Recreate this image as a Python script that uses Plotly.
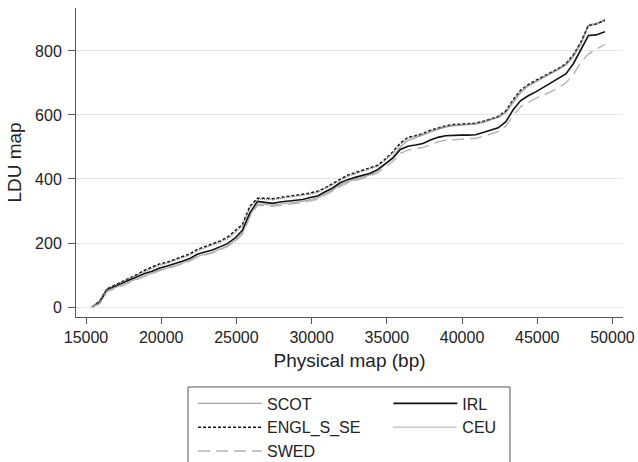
import plotly.graph_objects as go

bp = [15400, 15900, 16400, 16900, 17400, 17900, 18400, 18900, 19400, 19900,
      20400, 20900, 21400, 21900, 22400, 22900, 23400, 23900, 24400, 24900,
      25400, 25900, 26400, 26900, 27400, 27900, 28400, 28900, 29400, 29900,
      30400, 30900, 31400, 31900, 32400, 32900, 33400, 33900, 34400, 34900,
      35400, 35900, 36400, 36900, 37400, 37900, 38400, 38900, 39400, 39900,
      40400, 40900, 41400, 41900, 42400, 42900, 43400, 43900, 44400, 44900,
      45400, 45900, 46400, 46900, 47400, 47900, 48400, 48900, 49500]

irl = [0, 15, 55, 65, 75, 85, 95, 105, 112, 122,
       128, 135, 143, 152, 165, 172, 178, 188, 198, 215,
       240, 295, 330, 327, 324, 328, 330, 334, 336, 342,
       347, 360, 372, 388, 398, 405, 412, 418, 430, 448,
       465, 492, 502, 506, 511, 522, 530, 535, 537, 537,
       537, 538, 545, 552, 560, 578, 616, 645, 660, 672,
       686, 698, 712, 728, 760, 805, 848, 850, 860]

engl = [0, 18, 57, 68, 80, 92, 102, 115, 125, 135,
        140, 148, 156, 166, 180, 188, 196, 206, 218, 238,
        258, 315, 340, 340, 338, 342, 345, 348, 352, 356,
        362, 372, 386, 400, 412, 420, 428, 435, 443, 462,
        485, 512, 530, 535, 542, 552, 560, 566, 570, 572,
        572, 574, 580, 588, 595, 612, 648, 678, 695, 708,
        720, 732, 745, 760, 788, 828, 880, 884, 895]

ceu = [0, 16, 56, 66, 78, 90, 100, 112, 122, 131,
       137, 145, 153, 163, 176, 184, 192, 202, 213, 232,
       252, 310, 336, 336, 335, 339, 342, 345, 349, 353,
       358, 369, 382, 396, 408, 416, 424, 431, 440, 458,
       481, 508, 527, 533, 540, 550, 558, 564, 568, 570,
       571, 573, 579, 586, 594, 610, 645, 675, 693, 706,
       718, 730, 744, 758, 786, 826, 882, 886, 900]

scot = [0, 12, 50, 60, 70, 79, 89, 98, 106, 116,
        122, 129, 137, 146, 158, 165, 171, 181, 191, 207,
        232, 288, 322, 321, 318, 322, 324, 328, 330, 336,
        341, 354, 366, 382, 392, 399, 406, 413, 426, 446,
        470, 500, 520, 528, 536, 546, 555, 562, 566, 568,
        569, 571, 577, 584, 592, 606, 640, 670, 690, 703,
        715, 727, 741, 755, 782, 820, 878, 883, 897]

swed = [0, 10, 48, 58, 68, 77, 87, 96, 104, 114,
        120, 127, 135, 144, 156, 163, 169, 179, 189, 204,
        228, 282, 318, 317, 315, 318, 320, 324, 326, 332,
        337, 350, 362, 377, 388, 395, 402, 409, 420, 438,
        455, 480, 490, 494, 498, 508, 516, 521, 523, 524,
        525, 527, 533, 540, 548, 565, 598, 626, 640, 652,
        662, 672, 685, 700, 726, 765, 790, 805, 820]

xticks = [15000, 20000, 25000, 30000, 35000, 40000, 45000, 50000]
yticks = [0, 200, 400, 600, 800]

# name, values, line style, legend column
series = [
    ("SCOT", scot, dict(color="#a6a6a6", width=1.2, dash="solid"), "legend"),
    ("IRL", irl, dict(color="#111111", width=1.6, dash="solid"), "legend2"),
    ("ENGL_S_SE", engl, dict(color="#111111", width=1.5, dash="3px,2px"), "legend"),
    ("CEU", ceu, dict(color="#7a7a7a", width=1.2, dash="1px,1px"), "legend2"),
    ("SWED", swed, dict(color="#b3b3b3", width=1.4, dash="12px,6px"), "legend"),
]

fig = go.Figure()
for name, vals, ln, lg in series:
    fig.add_trace(go.Scatter(x=bp, y=vals, mode="lines", name=name, line=ln, legend=lg))

font = "Arial, 'Liberation Sans', sans-serif"
leg_common = dict(
    orientation="v", yanchor="top", xanchor="left", bgcolor="rgba(0,0,0,0)",
    borderwidth=0, font=dict(family=font, size=16, color="#222222"),
    itemwidth=64, tracegroupgap=0, traceorder="normal",
)
fig.update_layout(
    width=638, height=462,
    margin=dict(l=76, r=15, t=8, b=145, autoexpand=False),
    paper_bgcolor="white", plot_bgcolor="white",
    font=dict(family=font, size=16, color="#222222"),
    showlegend=True,
    legend=dict(x=0.214, y=-0.225, **leg_common),
    legend2=dict(x=0.571, y=-0.225, **leg_common),
    shapes=[dict(type="rect", xref="paper", yref="paper",
                 x0=0.2048, x1=0.7934, y0=-0.53, y1=-0.2265,
                 line=dict(color="#555555", width=1), fillcolor="rgba(0,0,0,0)")],
    xaxis=dict(
        range=[14335, 50700], tickvals=xticks, ticktext=[str(v) for v in xticks],
        showgrid=False, zeroline=False, showline=True, linecolor="#555555", linewidth=1,
        ticks="outside", ticklen=6, tickcolor="#555555", ticklabelstandoff=0,
        title=dict(text="Physical map (bp)", standoff=8),
    ),
    yaxis=dict(
        range=[-31, 934], tickvals=yticks, ticktext=[str(v) for v in yticks],
        showgrid=True, gridcolor="#e6e6e6", gridwidth=1, zeroline=False,
        showline=True, linecolor="#555555", linewidth=1,
        ticks="outside", ticklen=7, tickcolor="#555555", ticklabelstandoff=3,
        title=dict(text="LDU map", standoff=8),
    ),
)
fig.write_html("out.html", config={"displayModeBar": False},
               post_script="document.body.style.margin='0';")
